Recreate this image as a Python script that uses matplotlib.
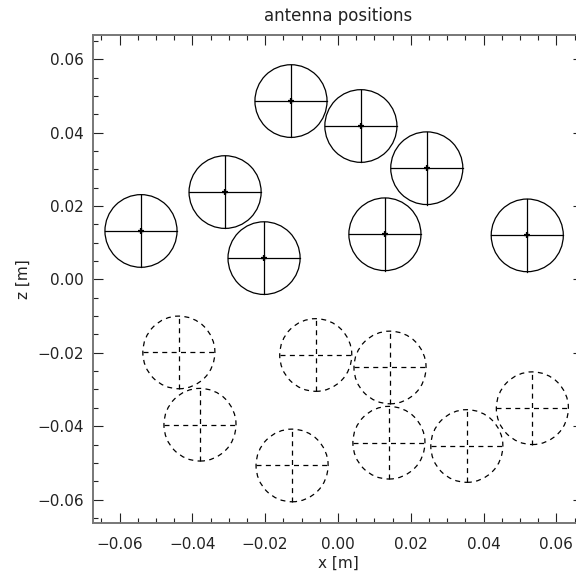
#!/usr/bin/env python3
"""
plot.py
Antenna positions: solid = upper array, dashed = lower array.
Output: out.png
"""

import numpy as np
import matplotlib
matplotlib.use("Agg")
import matplotlib.pyplot as plt
from matplotlib.patches import Circle
from matplotlib.ticker import MultipleLocator


# -------------------------------------------------------------------
# DATA
# -------------------------------------------------------------------

RADIUS = 0.0099

solid_x = [-0.0541, -0.0310, -0.0203, -0.0129, 0.0063, 0.0244, 0.0129, 0.0520]
solid_z = [0.0132, 0.0238, 0.0058, 0.0486, 0.0418, 0.0303, 0.0123, 0.0120]

dashed_x = [-0.0437, -0.0379, -0.0061, -0.0126, 0.0143, 0.0140, 0.0354, 0.0534]
dashed_z = [-0.0199, -0.0396, -0.0206, -0.0507, -0.0240, -0.0445, -0.0454, -0.0351]


# -------------------------------------------------------------------
# HELPERS
# -------------------------------------------------------------------

def draw_antenna(ax, cx, cz, r, ls, center_mark):
    ax.add_patch(Circle((cx, cz), r, fill=False, ec="black", lw=0.9, ls=ls))
    ax.plot([cx - r, cx + r], [cz, cz], color="black", lw=0.9, ls=ls)
    ax.plot([cx, cx], [cz - r, cz + r], color="black", lw=0.9, ls=ls)
    if center_mark:
        ax.plot(cx, cz, marker="+", ms=5, mew=1.6, color="black")


# -------------------------------------------------------------------
# MAIN
# -------------------------------------------------------------------

def main():
    fig = plt.figure(figsize=(5.76, 5.72), dpi=100)
    # axes box runs a little past the right edge, as in the reference
    ax = fig.add_axes([93.3 / 576, 49.3 / 572, 489.3 / 576, 487.7 / 572])

    dash = (0, (4.0, 3.5))
    for cx, cz in zip(solid_x, solid_z):
        draw_antenna(ax, cx, cz, RADIUS, "-", True)
    for cx, cz in zip(dashed_x, dashed_z):
        draw_antenna(ax, cx, cz, RADIUS, dash, False)

    ax.set_xlim(-0.0672, 0.0672)
    ax.set_ylim(-0.0663, 0.0666)

    ax.xaxis.set_major_locator(MultipleLocator(0.02))
    ax.xaxis.set_minor_locator(MultipleLocator(0.005))
    ax.yaxis.set_major_locator(MultipleLocator(0.02))
    ax.yaxis.set_minor_locator(MultipleLocator(0.005))
    ax.xaxis.set_major_formatter(lambda v, p: f"{v:.2f}".replace("-", "\u2212"))
    ax.yaxis.set_major_formatter(lambda v, p: f"{v:.2f}".replace("-", "\u2212"))

    ax.tick_params(which="both", direction="in", top=True, right=True,
                   color="#222222", width=0.8, labelsize=11, labelcolor="#222222")
    ax.tick_params(which="major", length=7.2)
    ax.tick_params(which="minor", length=3.6)
    ax.tick_params(axis="x", which="major", pad=10)
    ax.tick_params(axis="y", which="major", pad=7)

    for sp in ax.spines.values():
        sp.set_color("#777777")
        sp.set_linewidth(1.4)

    ax.set_xlabel("x [m]", fontsize=11, labelpad=3, color="#222222")
    ax.set_ylabel("z [m]", fontsize=11, color="#222222")
    ax.yaxis.set_label_coords(-0.128, 0.5)
    ax.set_title("antenna positions", fontsize=12, pad=10, color="#222222")

    fig.savefig("out.png", dpi=100)
    plt.close(fig)


if __name__ == "__main__":
    main()
